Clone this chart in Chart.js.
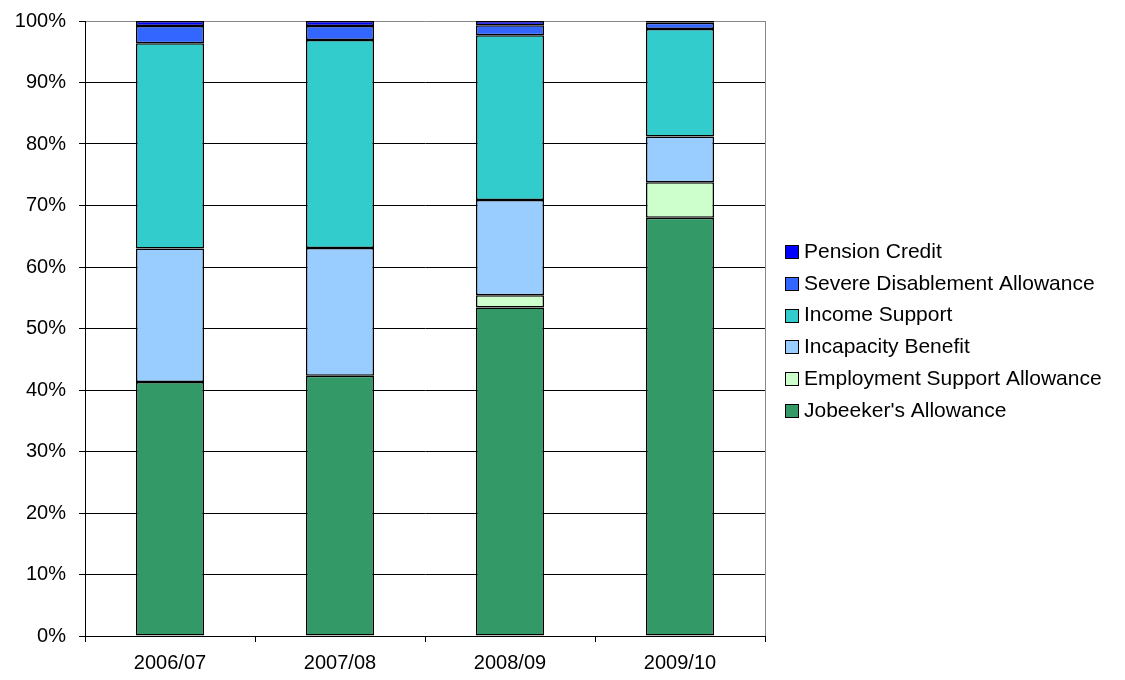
<!DOCTYPE html>
<html>
<head>
<meta charset="utf-8">
<title>Benefit claimants by type</title>
<script src="https://cdn.jsdelivr.net/npm/chart.js@4/dist/chart.umd.min.js"></script>
<style>
  body { margin: 0; background: #fff; }
  canvas { display: block; }
</style>
</head>
<body>
<canvas id="benefitChart" width="1125" height="680"></canvas>
<script>
const years = ['2006/07', '2007/08', '2008/09', '2009/10'];

// share of claimants, % of total (bottom segment first)
const jobseekers = [41.3, 42.3, 53.4, 68.0];
const employmentSupport = [0, 0, 2.0, 5.8];
const incapacity = [21.7, 20.8, 15.5, 7.4];
const incomeSupport = [33.4, 33.8, 26.8, 17.5];
const severeDisablement = [2.8, 2.3, 1.6, 1.0];
const pensionCredit = [0.8, 0.8, 0.7, 0.3];

const yTicks = [0, 10, 20, 30, 40, 50, 60, 70, 80, 90, 100];

const FONT = 'Liberation Sans, Arial, sans-serif';

function series(label, data, color) {
  return {
    label: label,
    data: data,
    backgroundColor: color,
    borderColor: '#000',
    borderWidth: 1.5,
    borderSkipped: false,
    categoryPercentage: 1,
    barPercentage: 0.4
  };
}

// gray right edge of the plot area
const plotFrame = {
  id: 'plotFrame',
  beforeDatasetsDraw(chart) {
    const { ctx, chartArea } = chart;
    const x = Math.round(chartArea.right) + 0.5;
    ctx.save();
    ctx.strokeStyle = '#888';
    ctx.lineWidth = 1;
    ctx.beginPath();
    ctx.moveTo(x, chartArea.top);
    ctx.lineTo(x, chartArea.bottom);
    ctx.stroke();
    ctx.restore();
  }
};

// legend on the right, top series first
const sideLegend = {
  id: 'sideLegend',
  afterDraw(chart) {
    const { ctx } = chart;
    const items = chart.data.datasets.slice().reverse();
    ctx.save();
    ctx.font = '21px ' + FONT;
    ctx.textBaseline = 'middle';
    items.forEach((ds, i) => {
      const y = 251 + i * 31.8;
      ctx.fillStyle = ds.backgroundColor;
      ctx.fillRect(785.5, Math.round(y - 6) + 0.5, 13, 13);
      ctx.strokeStyle = '#000';
      ctx.lineWidth = 1;
      ctx.strokeRect(785.5, Math.round(y - 6) + 0.5, 13, 13);
      ctx.fillStyle = '#000';
      ctx.fillText(ds.label, 804, y + 1);
    });
    ctx.restore();
  }
};

const ctx = document.getElementById('benefitChart').getContext('2d');
const chart = new Chart(ctx, {
  type: 'bar',
  data: {
    labels: years,
    datasets: [
      series("Jobeeker's Allowance", jobseekers, '#339966'),
      series('Employment Support Allowance', employmentSupport, '#CCFFCC'),
      series('Incapacity Benefit', incapacity, '#99CCFF'),
      series('Income Support', incomeSupport, '#33CCCC'),
      series('Severe Disablement Allowance', severeDisablement, '#3366FF'),
      series('Pension Credit', pensionCredit, '#0000FF')
    ]
  },
  options: {
    responsive: false,
    animation: false,
    layout: { padding: { top: 21, right: 360, bottom: 0, left: 0 } },
    plugins: {
      legend: { display: false },
      tooltip: { enabled: false }
    },
    scales: {
      x: {
        stacked: true,
        afterFit(scale) {
          scale.height = 44;
          scale.paddingLeft = 0;
          scale.paddingRight = 0;
        },
        grid: {
          offset: true,
          drawOnChartArea: false,
          drawTicks: true,
          tickLength: 6,
          color: '#000'
        },
        border: { display: true, color: '#000' },
        ticks: {
          color: '#000',
          padding: 9,
          font: { family: FONT, size: 20 },
          maxRotation: 0
        }
      },
      y: {
        stacked: true,
        min: 0,
        max: 100,
        afterFit(scale) {
          scale.width = 85;
          scale.paddingTop = 0;
          scale.paddingBottom = 0;
        },
        afterBuildTicks(scale) { scale.ticks = yTicks.map(v => ({ value: v })); },
        grid: {
          color: c => (c.tick && c.tick.value === 100 ? '#888' : '#000'),
          tickColor: '#000',
          tickLength: 6
        },
        border: { display: true, color: '#000' },
        ticks: {
          color: '#000',
          padding: 13,
          font: { family: FONT, size: 20 },
          callback: v => v + '%'
        }
      }
    }
  },
  plugins: [plotFrame, sideLegend]
});
</script>
</body>
</html>
